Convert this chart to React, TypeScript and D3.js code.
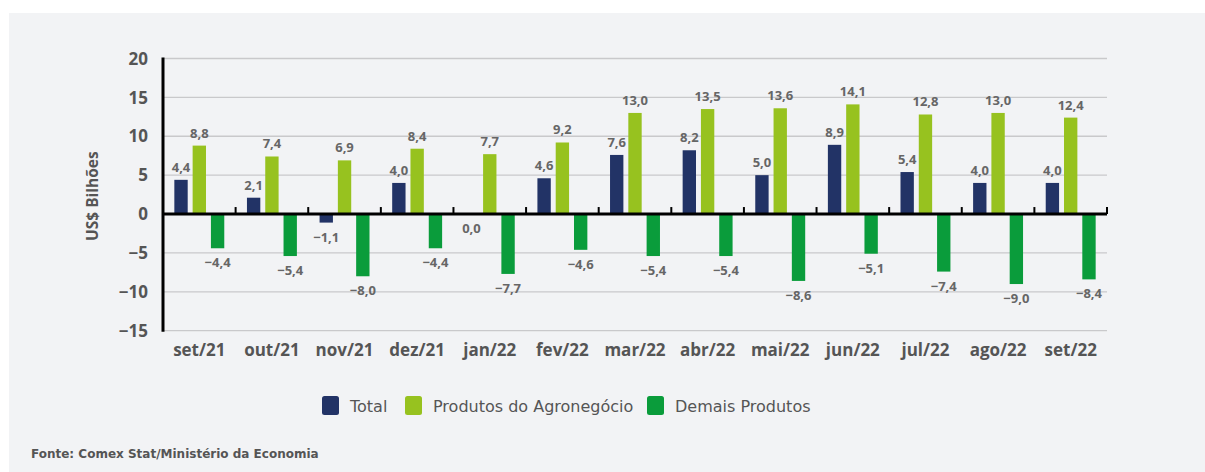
import * as d3 from 'd3';

const MONTHS = ['set/21', 'out/21', 'nov/21', 'dez/21', 'jan/22', 'fev/22', 'mar/22', 'abr/22', 'mai/22', 'jun/22', 'jul/22', 'ago/22', 'set/22'];
const TOTAL = [4.4, 2.1, -1.1, 4.0, 0.0, 4.6, 7.6, 8.2, 5.0, 8.9, 5.4, 4.0, 4.0];
const AGRO = [8.8, 7.4, 6.9, 8.4, 7.7, 9.2, 13.0, 13.5, 13.6, 14.1, 12.8, 13.0, 12.4];
const DEMAIS = [-4.4, -5.4, -8.0, -4.4, -7.7, -4.6, -5.4, -5.4, -8.6, -5.1, -7.4, -9.0, -8.4];
const Y_TICKS = [-15, -10, -5, 0, 5, 10, 15, 20];
const SERIES_NAMES = ['Total', 'Produtos do Agronegócio', 'Demais Produtos'];
const COLORS = ['#223366', '#97c21f', '#0a9c3b'];

const W = 1205;
const H = 472;
const FONT = "'Open Sans', 'DejaVu Sans', sans-serif";
const WIDE = "'DejaVu Sans', sans-serif";

export default function App() {
  const left = 163;
  const right = 1107;
  const x = d3.scaleBand<string>().domain(MONTHS).range([left, right]).paddingInner(0).paddingOuter(0);
  const y = d3.scaleLinear().domain([-15, 20]).range([330.7, 58.5]);
  const inner = d3.scaleBand<number>().domain([0, 1, 2]).range([0, x.bandwidth()]).paddingInner(0.27).paddingOuter(0.62);
  const series = [TOTAL, AGRO, DEMAIS];
  const fmt = (v: number) => v.toFixed(1).replace('.', ',').replace('-', '−');

  return (
    <svg width={W} height={H} style={{ position: 'absolute', left: 0, top: 0 }}>
      <rect x={9} y={13} width={W - 9} height={H - 13} fill="#f2f3f5" />

      {Y_TICKS.filter(t => t !== 0).map(t => (
        <line key={t} x1={left} x2={right} y1={y(t)} y2={y(t)} stroke="#c9c9cb" strokeWidth={1.3} />
      ))}
      {Y_TICKS.map(t => (
        <text key={'t' + t} x={148} y={y(t)} dy="0.36em" textAnchor="end" fontFamily={FONT}
          fontWeight={700} fontSize={17} fill="#555">{t < 0 ? '−' + Math.abs(t) : t}</text>
      ))}

      <text transform={`translate(98,${y(2.3)}) rotate(-90)`} textAnchor="middle" fontFamily={FONT}
        fontWeight={700} fontSize={15.5} fill="#555">US$ Bilhões</text>

      {series.map((vals, si) => vals.map((v, i) => {
        const bx = (x(MONTHS[i]) as number) + (inner(si) as number);
        const y0 = y(0);
        const yv = y(v);
        return (
          <rect key={si + '-' + i} x={bx} width={inner.bandwidth()} y={Math.min(y0, yv)}
            height={Math.abs(yv - y0)} fill={COLORS[si]} />
        );
      }))}

      <line x1={left} x2={right} y1={y(0)} y2={y(0)} stroke="#000" strokeWidth={3} />
      {MONTHS.map(m => (
        <line key={'k' + m} x1={(x(m) as number) + x.bandwidth()} x2={(x(m) as number) + x.bandwidth()}
          y1={y(0)} y2={y(0) - 7} stroke="#000" strokeWidth={2} />
      ))}
      <line x1={left} x2={left} y1={y(20) - 1} y2={y(-15) + 1} stroke="#000" strokeWidth={3} />

      {series.map((vals, si) => vals.map((v, i) => {
        const cx = (x(MONTHS[i]) as number) + (inner(si) as number) + inner.bandwidth() / 2;
        const neg = v <= 0;
        const ty = neg ? y(v) + 19 : y(v) - 8;
        return (
          <text key={'v' + si + '-' + i} x={cx} y={ty} textAnchor="middle" fontFamily={FONT}
            fontWeight={700} fontSize={13} fill="#666">{fmt(v)}</text>
        );
      }))}

      {MONTHS.map(m => (
        <text key={'x' + m} x={(x(m) as number) + x.bandwidth() / 2} y={356} textAnchor="middle"
          fontFamily={FONT} fontWeight={700} fontSize={17} fill="#555">{m}</text>
      ))}

      {(() => {
        const starts = [322, 405, 647];
        return SERIES_NAMES.map((n, i) => (
          <g key={n} transform={`translate(${starts[i]},396)`}>
            <rect width={17} height={19} rx={2.5} fill={COLORS[i]} />
            <text x={28} y={10} dy="0.36em" fontFamily={WIDE} fontSize={16} fill="#555">{n}</text>
          </g>
        ));
      })()}

      <text x={31} y={458} fontFamily={WIDE} fontWeight={700} fontSize={12} fill="#555">Fonte: Comex Stat/Ministério da Economia</text>
    </svg>
  );
}
